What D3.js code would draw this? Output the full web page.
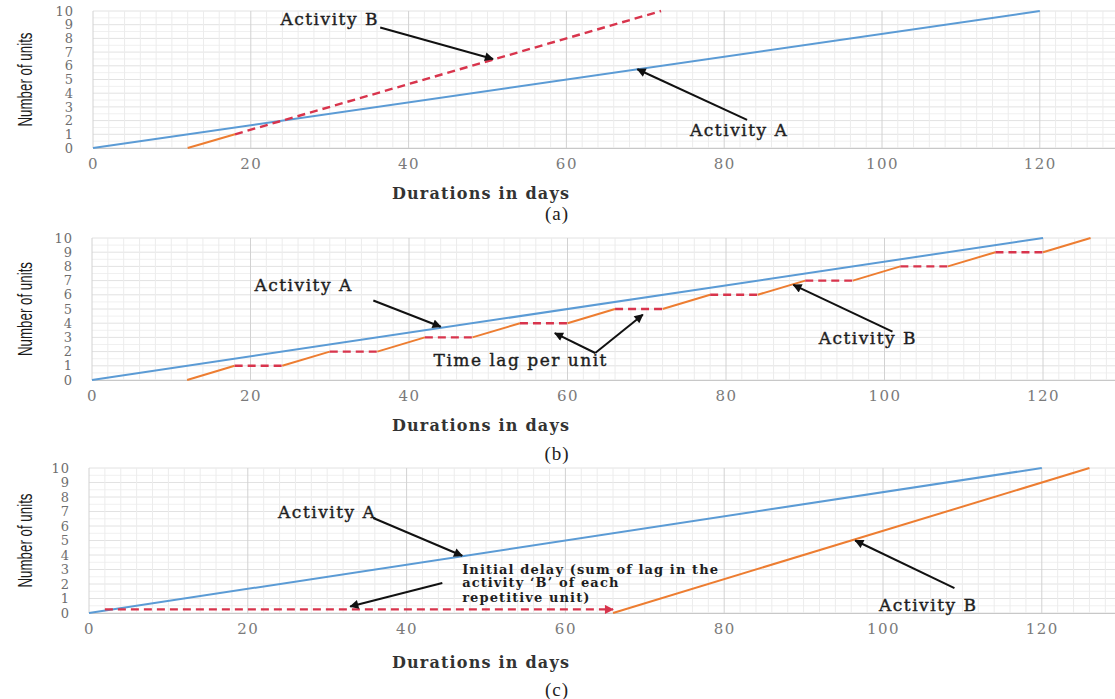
<!DOCTYPE html>
<html>
<head>
<meta charset="utf-8">
<script src="https://cdn.jsdelivr.net/npm/d3@7"></script>
<style>
  body { margin: 0; background: #fff; }
  svg { display: block; }
</style>
</head>
<body>
<svg id="chart" width="1115" height="699"></svg>
<script>
// tick labels
const dayTicks = [0, 20, 40, 60, 80, 100, 120];
const unitTicks = [0, 1, 2, 3, 4, 5, 6, 7, 8, 9, 10];

// activity A, same in all three panels
const actA = [[0, 0], [120, 10]];

// (a) activity B, solid start then dashed
const bSolidA = [[12, 0], [18, 1]];
const bDashA = [[18, 1], [72, 10]];

// (b) activity B step corners (rise, then lag per unit)
const bStepDays = [12, 18, 24, 30, 36, 42, 48, 54, 60, 66, 72, 78, 84, 90, 96, 102, 108, 114, 120, 126];
const bStepUnits = [0, 1, 1, 2, 2, 3, 3, 4, 4, 5, 5, 6, 6, 7, 7, 8, 8, 9, 9, 10];

// (c) initial delay and activity B
const delayC = [[2, 0.25], [66, 0.25]];
const bSolidC = [[66, 0], [126, 10]];

const blue = "#5b9bd5", orange = "#ed7d31", red = "#d8344c";
const serif = "'DejaVu Serif', serif";

const svg = d3.select("#chart");
const defs = svg.append("defs");
const addMarker = (id, color) => {
  defs.append("marker")
    .attr("id", id)
    .attr("viewBox", "0 0 10 10")
    .attr("refX", 9).attr("refY", 5)
    .attr("markerWidth", 11).attr("markerHeight", 9)
    .attr("markerUnits", "userSpaceOnUse")
    .attr("orient", "auto")
    .append("path").attr("d", "M0,0L10,5L0,10Z").attr("fill", color);
};
addMarker("arrowK", "#111");
addMarker("arrowR", red);

const panels = [
  { x0: 93, k: 7.89, y0: 148, y10: 11, cap: "(a)", capY: 213, titleY: 193 },
  { x0: 92, k: 7.925, y0: 380, y10: 238, cap: "(b)", capY: 453, titleY: 425 },
  { x0: 89, k: 7.94, y0: 613, y10: 468, cap: "(c)", capY: 689, titleY: 662 }
];

const makePanel = (p) => {
  const g = svg.append("g");
  const x = d3.scaleLinear().domain([0, 130]).range([p.x0, p.x0 + 130 * p.k]);
  const y = d3.scaleLinear().domain([0, 10]).range([p.y0, p.y10]);

  // grid
  g.append("g").selectAll("line").data(d3.range(0, 10.01, 0.5)).join("line")
    .attr("x1", x(0)).attr("x2", x(130)).attr("y1", d => y(d)).attr("y2", d => y(d))
    .attr("stroke", d => d % 1 === 0 ? "#e2e2e2" : "#f0f0f0").attr("stroke-width", 1);
  g.append("g").selectAll("line").data(d3.range(0, 131, 2)).join("line")
    .attr("x1", d => x(d)).attr("x2", d => x(d)).attr("y1", y(0)).attr("y2", y(10))
    .attr("stroke", d => d % 20 === 0 ? "#d2d2d2" : "#ececec").attr("stroke-width", 1);

  // x axis
  const xAxis = d3.axisBottom(x).tickValues(dayTicks).tickSize(0).tickPadding(10);
  const xa = g.append("g").attr("transform", `translate(0,${y(0)})`).call(xAxis);
  xa.select(".domain").attr("stroke", "#c8c8c8");
  xa.selectAll("text").attr("font-family", serif).attr("font-size", 15)
    .attr("letter-spacing", 1.5).attr("fill", "#7a7a7a");

  // y axis
  const yAxis = d3.axisLeft(y).tickValues(unitTicks).tickSize(0).tickPadding(19);
  const ya = g.append("g").attr("transform", `translate(${x(0)},0)`).call(yAxis);
  ya.select(".domain").remove();
  ya.selectAll("text").attr("font-family", serif).attr("font-size", 13)
    .attr("letter-spacing", 1).attr("fill", "#6e6e6e");

  // axis titles
  g.append("text").attr("transform", `translate(24,${(y(0) + y(10)) / 2}) rotate(-90)`)
    .attr("text-anchor", "middle").attr("dominant-baseline", "central")
    .attr("font-family", "'Liberation Sans', sans-serif").attr("font-size", 21)
    .attr("textLength", 94).attr("lengthAdjust", "spacingAndGlyphs")
    .attr("fill", "#1a1a1a").text("Number of units");
  g.append("text").attr("x", 481).attr("y", p.titleY)
    .attr("text-anchor", "middle").attr("dominant-baseline", "central")
    .attr("font-family", serif).attr("font-size", 16).attr("font-weight", "bold")
    .attr("letter-spacing", 1.2).attr("fill", "#333").text("Durations in days");
  g.append("text").attr("x", 557).attr("y", p.capY)
    .attr("text-anchor", "middle").attr("dominant-baseline", "central")
    .attr("font-family", "'Liberation Serif', serif").attr("font-size", 19)
    .attr("letter-spacing", 1).attr("fill", "#222").text(p.cap);

  return { g, x, y };
};

const line = (P, pts, color, dashed, width, marker) => {
  const gen = d3.line().x(d => P.x(d[0])).y(d => P.y(d[1]));
  const path = P.g.append("path").datum(pts).attr("d", gen)
    .attr("fill", "none").attr("stroke", color).attr("stroke-width", width || 2);
  if (dashed) path.attr("stroke-dasharray", "8,5");
  if (marker) path.attr("marker-end", `url(#${marker})`);
  return path;
};

const label = (P, txt, dx, dy, anchor, small) => {
  P.g.append("text").attr("x", P.x(dx)).attr("y", P.y(dy))
    .attr("text-anchor", anchor || "middle").attr("dominant-baseline", "central")
    .attr("font-family", serif).attr("font-size", small ? 13 : 17)
    .attr("font-weight", small ? "bold" : "normal")
    .attr("letter-spacing", small ? 1.1 : 1.5)
    .attr("fill", "#1e1e1e").attr("stroke", "#1e1e1e")
    .attr("stroke-width", small ? 0 : 0.4).text(txt);
};

const arrow = (P, from, to) => line(P, [from, to], "#111", false, 2, "arrowK");

// panel (a)
const pa = makePanel(panels[0]);
line(pa, actA, blue);
line(pa, bSolidA, orange);
line(pa, bDashA, red, true, 2.4);
label(pa, "Activity B", 30, 9.4);
arrow(pa, [36.4, 8.8], [50.7, 6.5]);
label(pa, "Activity A", 81.9, 1.3);
arrow(pa, [82.9, 2.05], [69, 5.75]);

// panel (b)
const pb = makePanel(panels[1]);
line(pb, actA, blue);
const steps = bStepDays.map((d, i) => [d, bStepUnits[i]]);
for (let i = 0; i < steps.length - 1; i++) {
  const flat = steps[i][1] === steps[i + 1][1];
  line(pb, [steps[i], steps[i + 1]], flat ? red : orange, flat, flat ? 2.4 : 2);
}
label(pb, "Activity A", 26.7, 6.7);
arrow(pb, [35.5, 5.6], [44, 3.75]);
label(pb, "Time lag per unit", 54.1, 1.4);
arrow(pb, [63.5, 1.9], [58.4, 3.3]);
arrow(pb, [63.5, 1.9], [69.5, 4.6]);
label(pb, "Activity B", 97.9, 2.96);
arrow(pb, [101, 3.4], [88.5, 6.7]);

// panel (c)
const pc = makePanel(panels[2]);
line(pc, actA, blue);
line(pc, delayC, red, true, 2.4, "arrowR");
line(pc, bSolidC, orange);
label(pc, "Activity A", 30, 6.97);
arrow(pc, [35.8, 6.55], [47, 3.95]);
label(pc, "Initial delay (sum of lag in the", 47, 3.03, "start", true);
label(pc, "activity \u2018B\u2019 of each", 47, 2.07, "start", true);
label(pc, "repetitive unit)", 47, 1.1, "start", true);
arrow(pc, [44.5, 2.07], [32.9, 0.45]);
label(pc, "Activity B", 105.7, 0.55);
arrow(pc, [109, 1.72], [96.5, 5.0]);
</script>
</body>
</html>
